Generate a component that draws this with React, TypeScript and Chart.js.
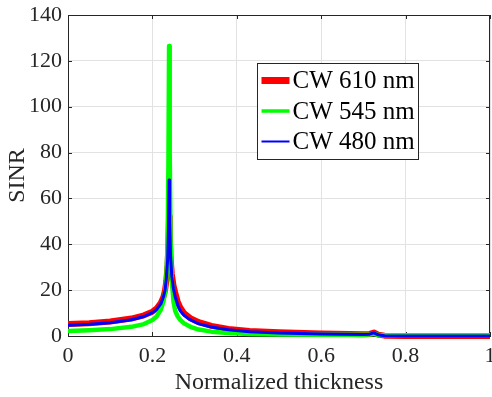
import React, { useEffect, useRef } from "react";
import { Chart, registerables } from "chart.js";

Chart.register(...registerables);

// Normalized thickness (x)
const thickness = [
  0, 0.05, 0.1, 0.15, 0.18, 0.2, 0.21, 0.22, 0.226, 0.23, 0.233, 0.236, 0.238,
  0.2395, 0.241, 0.243, 0.246, 0.25, 0.254, 0.26, 0.266, 0.275, 0.29, 0.31,
  0.34, 0.38, 0.43, 0.5, 0.6, 0.7, 0.715, 0.725, 0.735, 0.75, 0.8, 0.9, 1.0,
];

// SINR, CW 610 nm
const sinr610 = [
  5.2, 5.6, 6.3, 7.6, 9.0, 10.6, 12.0, 14.5, 17.0, 20.0, 24.0, 31.0, 40.0,
  52.0, 44.0, 34.0, 27.0, 22.0, 19.0, 15.0, 12.5, 10.0, 7.8, 6.0,
  4.4, 3.1, 2.2, 1.6, 1.1, 0.8, 0.9, 1.5, 0.6, 0.15, 0.05, 0.05, 0.05,
];

// SINR, CW 545 nm
const sinr545 = [
  2.2, 2.5, 3.0, 4.0, 5.2, 7.0, 8.5, 11.5, 15.0, 19.0, 25.0, 40.0, 75.0,
  126.5, 80.0, 42.0, 24.0, 15.0, 11.0, 8.5, 7.0, 5.5, 4.0, 2.8,
  1.9, 1.3, 0.9, 0.7, 0.55, 0.5, 0.6, 1.0, 0.4, 0.3, 0.3, 0.3, 0.3,
];

// SINR, CW 480 nm
const sinr480 = [
  4.7, 5.1, 5.8, 7.1, 8.5, 10.2, 11.6, 14.0, 17.0, 20.0, 25.0, 33.0, 46.0,
  68.0, 50.0, 35.0, 26.0, 20.5, 17.0, 13.5, 11.0, 9.0, 7.0, 5.3,
  3.9, 2.7, 1.9, 1.3, 0.9, 0.7, 0.8, 1.4, 0.5, 0.1, 0.05, 0.05, 0.05,
];

const seriesLabels = ["CW 610 nm", "CW 545 nm", "CW 480 nm"];
const seriesColors = ["#ff0000", "#00ff00", "#0000ff"];
const xTitle = "Normalized thickness";
const yTitle = "SINR";
const xRange = [0, 1, 0.2];
const yRange = [0, 140, 20];

const FONT = "'Liberation Serif', 'Times New Roman', serif";
const INK = "#262626";

Chart.defaults.font.family = FONT;

const toPoints = (ys: number[]) => thickness.map((x, i) => ({ x, y: ys[i] }));
const fmt = (v: any) => String(Math.round(Number(v) * 1000) / 1000);

const framePlugin = {
  id: "frame",
  beforeDatasetsDraw(chart: any) {
    const { ctx, chartArea: a, scales } = chart;
    const xs = scales.x;
    const ys = scales.y;
    ctx.save();
    ctx.strokeStyle = INK;
    ctx.lineWidth = 1;
    ctx.beginPath();
    ctx.moveTo(a.left, a.top + 0.5);
    ctx.lineTo(a.right, a.top + 0.5);
    ctx.moveTo(a.right - 0.5, a.top);
    ctx.lineTo(a.right - 0.5, a.bottom);
    const tl = 4;
    xs.ticks.forEach((t: any) => {
      const px = Math.round(xs.getPixelForValue(t.value)) + 0.5;
      ctx.moveTo(px, a.bottom);
      ctx.lineTo(px, a.bottom - tl);
      ctx.moveTo(px, a.top);
      ctx.lineTo(px, a.top + tl);
    });
    ys.ticks.forEach((t: any) => {
      const py = Math.round(ys.getPixelForValue(t.value)) + 0.5;
      ctx.moveTo(a.left, py);
      ctx.lineTo(a.left + tl, py);
      ctx.moveTo(a.right, py);
      ctx.lineTo(a.right - tl, py);
    });
    ctx.stroke();
    ctx.restore();
  },
};

const legendWidths = [7, 3.5, 2];

const legendPlugin = {
  id: "matlabLegend",
  afterDraw(chart: any) {
    const { ctx } = chart;
    const bx = 257.5;
    const by = 63.5;
    const bw = 161;
    const bh = 96;
    ctx.save();
    ctx.fillStyle = "#ffffff";
    ctx.fillRect(bx, by, bw, bh);
    ctx.strokeStyle = INK;
    ctx.lineWidth = 1;
    ctx.strokeRect(bx, by, bw, bh);
    ctx.font = `25px ${FONT}`;
    ctx.textBaseline = "middle";
    ctx.textAlign = "left";
    seriesLabels.forEach((label, i) => {
      const cy = by + 17 + i * 30.5;
      ctx.strokeStyle = seriesColors[i];
      ctx.lineWidth = legendWidths[i];
      ctx.beginPath();
      ctx.moveTo(bx + 4, cy);
      ctx.lineTo(bx + 32, cy);
      ctx.stroke();
      ctx.fillStyle = "#000000";
      ctx.fillText(label, bx + 35, cy + 1);
    });
    ctx.restore();
  },
};

export default function App() {
  const canvasRef = useRef<HTMLCanvasElement | null>(null);

  useEffect(() => {
    const canvas = canvasRef.current;
    if (!canvas) return;
    const lineWidths = [6, 4.5, 3];
    const orders = [3, 2, 1];
    const data = [sinr610, sinr545, sinr480];
    const chart = new Chart(canvas, {
      type: "line",
      data: {
        datasets: data.map((ys, i) => ({
          label: seriesLabels[i],
          data: toPoints(ys),
          borderColor: seriesColors[i],
          backgroundColor: seriesColors[i],
          borderWidth: lineWidths[i],
          pointRadius: 0,
          tension: 0,
          fill: false,
          order: orders[i],
          clip: { left: 0, top: 0, right: 0, bottom: 4 },
          borderJoinStyle: "round" as const,
          borderCapStyle: "round" as const,
        })),
      },
      options: {
        animation: false,
        responsive: false,
        events: [],
        font: { family: FONT },
        layout: { padding: { top: 15, right: 2, left: 0, bottom: 0 } },
        plugins: {
          legend: { display: false },
          tooltip: { enabled: false },
        },
        scales: {
          x: {
            type: "linear",
            min: xRange[0],
            max: xRange[1],
            grid: { color: "#e2e2e2", drawTicks: false },
            border: { display: true, color: INK, width: 1 },
            ticks: {
              stepSize: xRange[2],
              autoSkip: false,
              maxRotation: 0,
              padding: 7,
              color: INK,
              font: { family: FONT, size: 22 },
              callback: (v: any) => fmt(v),
            },
            title: {
              display: true,
              text: xTitle,
              color: INK,
              font: { family: FONT, size: 24 },
              padding: { top: 0, bottom: 0 },
            },
            afterFit: (s: any) => {
              s.height = 61;
              s.paddingLeft = 0;
              s.paddingRight = 0;
            },
          },
          y: {
            type: "linear",
            min: yRange[0],
            max: yRange[1],
            grid: { color: "#e2e2e2", drawTicks: false },
            border: { display: true, color: INK, width: 1 },
            ticks: {
              stepSize: yRange[2],
              padding: 6,
              color: INK,
              font: { family: FONT, size: 22 },
              callback: (v: any) => fmt(v),
            },
            title: {
              display: true,
              text: yTitle,
              color: INK,
              font: { family: FONT, size: 24 },
              padding: { top: 3, bottom: 0 },
            },
            afterFit: (s: any) => {
              s.width = 68;
              s.paddingTop = 0;
              s.paddingBottom = 0;
            },
          },
        },
      },
      plugins: [framePlugin, legendPlugin],
    });
    return () => chart.destroy();
  }, []);

  return (
    <div style={{ position: "fixed", left: 0, top: 0, width: 492, height: 397, background: "#fff" }}>
      <canvas ref={canvasRef} width={492} height={397} style={{ display: "block" }} />
    </div>
  );
}
